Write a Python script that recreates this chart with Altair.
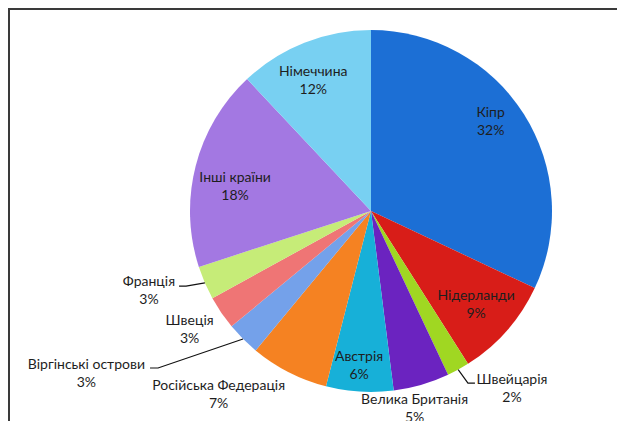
import math
import altair as alt
import pandas as pd

# ---- data ----
countries = ["Кіпр", "Нідерланди", "Швейцарія", "Велика Британія", "Австрія",
             "Російська Федерація", "Віргінські острови", "Швеція", "Франція",
             "Інші країни", "Німеччина"]
shares = [32, 9, 2, 5, 6, 7, 3, 3, 3, 18, 12]
colors = ["#1c6fd5", "#d81d18", "#a0d722", "#6b23c0", "#17b0d8", "#f58222",
          "#74a1ea", "#ef7575", "#c6ec78", "#a378e2", "#78d0f2"]

# ---- layout (label placement, not data) ----
label_shift_deg = [-4.2, 0.4, -9.6, 3.8, 0.8, 12.6, 15.2, 0.9, 3.6, -4.4, -2.4]
label_radius = [149, 141, 227, 203, 155, 239, 328, 217, 236, 138, 142]
# leader lines: elbow angle (deg), elbow radius, horizontal tail length
leaders = {"Швейцарія": (150.6, 197.5, 7),
           "Віргінські острови": (233.6, 264.6, -8),
           "Франція": (247.9, 199.6, -7)}

W, H = 609, 413
CX, CY, R = 363, 203, 181
FONT = "Lato"
LINE_H = 18

total = sum(shares)
mids = []
acc = 0
for v in shares:
    mids.append((acc + v / 2) / total * 360)
    acc += v

df = pd.DataFrame({
    "country": countries,
    "share": shares,
    "order": list(range(len(countries))),
    "label": [f"{c}\n{round(v / total * 100)}%" for c, v in zip(countries, shares)],
    "lab_theta": [m + s for m, s in zip(mids, label_shift_deg)],
    "lab_r": label_radius,
})

rows = []
for i, c in enumerate(countries):
    if c in leaders:
        ang, rad, tail = leaders[c]
        a0 = math.radians(mids[i])
        a1 = math.radians(ang)
        p0 = (CX + R * math.sin(a0), CY - R * math.cos(a0))
        p1 = (CX + rad * math.sin(a1), CY - rad * math.cos(a1))
        p2 = (p1[0] + tail, p1[1])
        for k, p in enumerate([p0, p1, p2]):
            rows.append({"country": c, "k": k, "px": p[0], "py": p[1]})
lines_df = pd.DataFrame(rows)

arcs = alt.Chart(df).mark_arc(outerRadius=R).encode(
    theta=alt.Theta("share:Q", stack=True),
    order=alt.Order("order:Q"),
    color=alt.Color("country:N", scale=alt.Scale(domain=countries, range=colors), legend=None),
    x=alt.value(CX),
    y=alt.value(CY),
)

labels = alt.Chart(df).mark_text(
    font=FONT, fontSize=14, lineBreak="\n", lineHeight=LINE_H, color="#1e1e1e",
    align="center", baseline="middle", dy=-LINE_H / 2
).encode(
    theta=alt.Theta("lab_theta:Q", stack=False,
                    scale=alt.Scale(domain=[0, 360], range=[0, 2 * math.pi])),
    radius=alt.Radius("lab_r:Q", scale=None),
    text="label:N",
    x=alt.value(CX),
    y=alt.value(CY),
)

leader_lines = alt.Chart(lines_df).mark_line(color="#111111", strokeWidth=1.2).encode(
    x=alt.X("px:Q", scale=None),
    y=alt.Y("py:Q", scale=None),
    detail="country:N",
    order="k:Q",
)

frame_top = alt.Chart(df).mark_rule(color="#3a3a3a", strokeWidth=2).encode(
    x=alt.value(0), x2=alt.value(W), y=alt.value(1))
frame_left = alt.Chart(df).mark_rule(color="#3a3a3a", strokeWidth=2).encode(
    x=alt.value(1), y=alt.value(0), y2=alt.value(H))

chart = alt.layer(arcs, leader_lines, labels, frame_top, frame_left).resolve_scale(
    theta="independent"
).properties(
    width=W, height=H, autosize="none", padding=0
).configure_view(stroke=None)

chart.save("out.html", embed_options={"renderer": "svg", "actions": False})
